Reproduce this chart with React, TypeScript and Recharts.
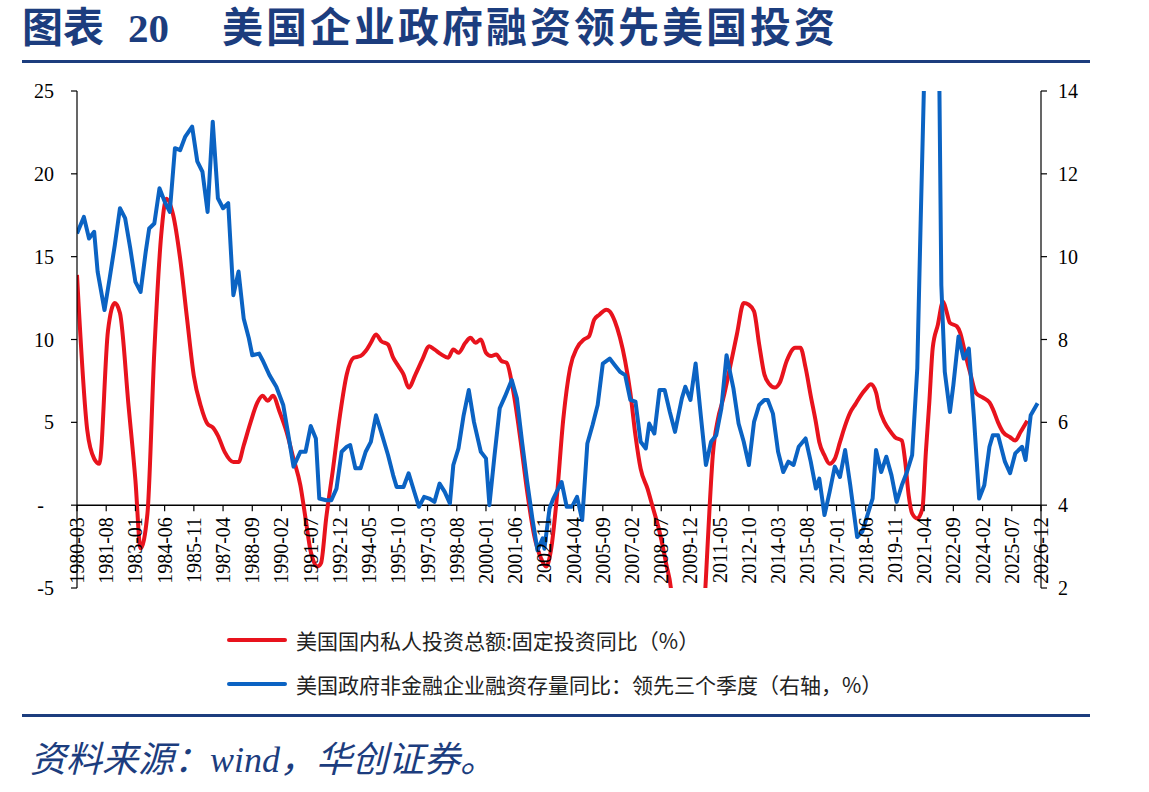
import React from "react"
import { LineChart, Line, XAxis, YAxis, ReferenceLine, Legend } from "recharts"

// 美国国内私人投资总额:固定投资同比（左轴，%）
const redDates = [
    "1980-03", "1980-09", "1981-01", "1981-04", "1981-09", "1982-01", "1982-04", "1982-09", "1983-01", "1983-04",
    "1983-08", "1983-12", "1984-04", "1984-07", "1984-11", "1985-03", "1985-07", "1985-11", "1986-03", "1986-07",
    "1986-10", "1987-01", "1987-05", "1987-10", "1988-01", "1988-04", "1988-08", "1988-12", "1989-03", "1989-06",
    "1989-09", "1990-01", "1990-05", "1990-09", "1991-01", "1991-04", "1991-07", "1991-11", "1992-01", "1992-04",
    "1992-08", "1992-12", "1993-04", "1993-08", "1993-12", "1994-03", "1994-06", "1994-09", "1994-12", "1995-04",
    "1995-07", "1995-10", "1996-01", "1996-04", "1996-08", "1996-12", "1997-04", "1997-07", "1997-11", "1998-03",
    "1998-06", "1998-09", "1999-01", "1999-04", "1999-07", "1999-10", "2000-01", "2000-04", "2000-07", "2000-10",
    "2001-01", "2001-05", "2001-09", "2002-01", "2002-05", "2002-09", "2002-12", "2003-03", "2003-06", "2003-10",
    "2004-02", "2004-06", "2004-10", "2005-01", "2005-04", "2005-07", "2005-11", "2006-01", "2006-04", "2006-07",
    "2006-10", "2007-01", "2007-04", "2007-07", "2007-11", "2008-02", "2008-06", "2008-10", "2009-01", "2009-04",
    "2009-07", "2009-10", "2010-01", "2010-03", "2010-06", "2010-09", "2010-11", "2011-01", "2011-04", "2011-07",
    "2011-11", "2012-03", "2012-07", "2012-10", "2013-01", "2013-04", "2013-07", "2013-10", "2014-01", "2014-04",
    "2014-08", "2015-01", "2015-04", "2015-07", "2015-10", "2016-01", "2016-03", "2016-06", "2016-09", "2016-12",
    "2017-03", "2017-06", "2017-09", "2017-12", "2018-03", "2018-06", "2018-09", "2018-12", "2019-02", "2019-05",
    "2019-08", "2019-11", "2020-03", "2020-05", "2020-07", "2020-09", "2020-12", "2021-03", "2021-05", "2021-07",
    "2021-09", "2021-12", "2022-03", "2022-05", "2022-07", "2022-11", "2023-01", "2023-04", "2023-07", "2023-10",
    "2024-02", "2024-06", "2024-08", "2024-11", "2025-02", "2025-06", "2025-09", "2025-12", "2026-04",
]
const redValues = [
    13.9, 4.5, 2.8, 2.5, 10.5, 12.2, 11.6, 6.0, 1.5, -2.6,
    -0.5, 9.3, 16.3, 18.5, 17.5, 14.9, 11.3, 7.8, 6.0, 4.9,
    4.7, 4.2, 3.2, 2.6, 2.6, 3.6, 5.0, 6.2, 6.6, 6.3,
    6.6, 5.6, 4.4, 2.8, 1.2, -0.8, -2.8, -3.7, -3.5, -0.8,
    2.2, 5.4, 7.9, 8.9, 9.0, 9.3, 9.8, 10.3, 9.9, 9.7,
    8.9, 8.4, 7.9, 7.1, 7.9, 8.8, 9.6, 9.4, 9.1, 8.9,
    9.4, 9.2, 9.8, 10.1, 9.8, 10.0, 9.2, 9.0, 9.1, 8.7,
    8.6, 6.8, 4.0, 0.8, -1.8, -3.2, -3.7, -2.6, 0.2, 5.2,
    8.3, 9.5, 10.0, 10.2, 11.2, 11.5, 11.8, 11.7, 11.1, 10.1,
    8.7, 6.8, 4.2, 2.2, 1.0, -0.1, -1.6, -3.6, -5.4, -12,
    -18, -19.5, -17, -15, -10, -4.4, -0.4, 3.0, 5.2, 6.4,
    8.3, 10.3, 12.2, 12.1, 11.7, 9.7, 7.9, 7.3, 7.1, 7.4,
    8.7, 9.5, 9.5, 8.3, 6.6, 5.0, 3.8, 3.0, 2.5, 2.8,
    3.8, 4.8, 5.6, 6.1, 6.6, 7.0, 7.3, 6.8, 5.8, 5.0,
    4.5, 4.1, 3.9, 2.6, 0.6, -0.5, -0.8, -0.2, 3.2, 6.2,
    9.5, 10.9, 12.3, 11.7, 11.0, 10.8, 10.4, 9.1, 7.9, 6.8,
    6.5, 6.2, 5.8, 5.0, 4.4, 4.1, 3.9, 4.4, 5.1,
]

// 美国政府非金融企业融资存量同比：领先三个季度（右轴，%）
const blueDates = [
    "1980-03", "1980-07", "1980-10", "1981-01", "1981-03", "1981-07", "1981-10", "1982-01", "1982-04", "1982-07",
    "1982-10", "1983-01", "1983-04", "1983-07", "1983-09", "1983-12", "1984-03", "1984-06", "1984-09", "1984-12",
    "1985-03", "1985-06", "1985-10", "1986-01", "1986-04", "1986-07", "1986-10", "1987-01", "1987-04", "1987-07",
    "1987-10", "1988-01", "1988-04", "1988-07", "1988-09", "1989-01", "1989-03", "1989-07", "1989-11", "1990-03",
    "1990-06", "1990-09", "1991-01", "1991-04", "1991-07", "1991-10", "1991-12", "1992-04", "1992-07", "1992-10",
    "1993-01", "1993-04", "1993-06", "1993-09", "1993-12", "1994-03", "1994-06", "1994-09", "1994-12", "1995-04",
    "1995-07", "1995-09", "1996-01", "1996-04", "1996-07", "1996-10", "1997-01", "1997-04", "1997-07", "1997-10",
    "1998-01", "1998-04", "1998-06", "1998-09", "1998-12", "1999-03", "1999-06", "1999-10", "2000-01", "2000-03",
    "2000-06", "2000-09", "2000-12", "2001-04", "2001-07", "2001-10", "2002-01", "2002-04", "2002-07", "2002-10",
    "2002-11", "2003-02", "2003-04", "2003-09", "2003-12", "2004-03", "2004-06", "2004-09", "2004-12", "2005-03",
    "2005-06", "2005-09", "2006-01", "2006-04", "2006-07", "2006-10", "2007-01", "2007-04", "2007-07", "2007-10",
    "2007-12", "2008-03", "2008-06", "2008-09", "2008-12", "2009-03", "2009-07", "2009-09", "2009-12", "2010-03",
    "2010-06", "2010-09", "2010-12", "2011-03", "2011-06", "2011-09", "2012-01", "2012-04", "2012-07", "2012-10",
    "2013-01", "2013-04", "2013-07", "2013-09", "2013-12", "2014-03", "2014-06", "2014-09", "2014-12", "2015-03",
    "2015-07", "2015-10", "2016-01", "2016-03", "2016-06", "2016-09", "2016-12", "2017-03", "2017-06", "2017-09",
    "2018-01", "2018-04", "2018-07", "2018-10", "2018-12", "2019-03", "2019-06", "2019-09", "2019-12", "2020-03",
    "2020-06", "2020-09", "2020-12", "2021-02", "2021-05", "2021-08", "2021-11", "2022-02", "2022-04", "2022-07",
    "2022-09", "2022-12", "2023-03", "2023-06", "2023-09", "2023-12", "2024-03", "2024-06", "2024-08", "2024-11",
    "2025-03", "2025-06", "2025-09", "2026-01", "2026-03", "2026-06", "2026-10",
]
const blueValues = [
    10.56, 10.96, 10.44, 10.6, 9.64, 8.71, 9.48, 10.28, 11.17, 10.93,
    10.2, 9.39, 9.15, 10.12, 10.68, 10.8, 11.65, 11.33, 11.08, 12.62,
    12.57, 12.9, 13.14, 12.3, 12.05, 11.08, 13.26, 11.41, 11.17, 11.29,
    9.07, 9.64, 8.51, 8.03, 7.62, 7.66, 7.5, 7.14, 6.86, 6.42,
    5.69, 4.93, 5.29, 5.29, 5.91, 5.61, 4.16, 4.12, 4.12, 4.4,
    5.29, 5.41, 5.45, 4.89, 4.89, 5.29, 5.53, 6.17, 5.77, 5.21,
    4.72, 4.44, 4.44, 4.77, 4.36, 3.96, 4.2, 4.16, 4.08, 4.52,
    4.32, 4.04, 4.97, 5.37, 6.17, 6.78, 6.01, 5.29, 5.13, 4.0,
    5.21, 6.34, 6.62, 7.02, 6.58, 5.53, 4.56, 3.68, 2.91, 3.2,
    2.95, 3.92, 4.14, 4.56, 3.96, 3.96, 4.2, 3.64, 5.49, 5.93,
    6.42, 7.42, 7.54, 7.38, 7.22, 7.14, 6.54, 6.5, 5.53, 5.37,
    5.97, 5.73, 6.78, 6.78, 6.25, 5.77, 6.58, 6.86, 6.54, 7.42,
    6.17, 4.97, 5.53, 5.69, 6.34, 7.62, 6.82, 5.97, 5.53, 4.97,
    6.01, 6.42, 6.54, 6.54, 6.21, 5.29, 4.8, 5.05, 4.97, 5.41,
    5.61, 5.05, 4.4, 4.64, 3.76, 4.32, 4.93, 4.68, 5.33, 4.48,
    3.23, 3.36, 3.76, 4.16, 5.33, 4.8, 5.17, 4.72, 4.08, 4.48,
    4.8, 5.21, 7.3, 10.9, 16, 22, 22, 9.31, 7.22, 6.25,
    6.9, 8.07, 7.54, 7.78, 6.1, 4.16, 4.48, 5.41, 5.69, 5.69,
    5.05, 4.77, 5.25, 5.41, 5.09, 6.17, 6.46,
]

const tickLabels = [
    "1980-03", "1981-08", "1983-01", "1984-06", "1985-11", "1987-04", "1988-09", "1990-02", "1991-07", "1992-12",
    "1994-05", "1995-10", "1997-03", "1998-08", "2000-01", "2001-06", "2002-11", "2004-04", "2005-09", "2007-02",
    "2008-07", "2009-12", "2011-05", "2012-10", "2014-03", "2015-08", "2017-01", "2018-06", "2019-11", "2021-04",
    "2022-09", "2024-02", "2025-07", "2026-12",
]
const leftTicks = [-5, 0, 5, 10, 15, 20, 25]
const rightTicks = [2, 4, 6, 8, 10, 12, 14]

const RED = "#e8131d"
const BLUE = "#0b63c3"
const NAVY = "#1c3d7e"

const legendItems = [
    { label: "美国国内私人投资总额:固定投资同比（%）", color: RED },
    { label: "美国政府非金融企业融资存量同比：领先三个季度（右轴，%）", color: BLUE },
]

// months since 1980-03
const monthIndex = (d: string) => {
    const [y, mo] = d.split("-").map(Number)
    return y * 12 + mo - 1 - (1980 * 12 + 2)
}

const xTicks = tickLabels.map(monthIndex)
const xMax = xTicks[xTicks.length - 1]

// merge both series on the month axis
const rowMap = new Map<number, { m: number; red?: number; blue?: number }>()
redDates.forEach((d, i) => {
    const m = monthIndex(d)
    rowMap.set(m, { ...(rowMap.get(m) || { m }), red: redValues[i] })
})
blueDates.forEach((d, i) => {
    const m = monthIndex(d)
    rowMap.set(m, { ...(rowMap.get(m) || { m }), blue: blueValues[i] })
})
const rows = Array.from(rowMap.values()).sort((a, b) => a.m - b.m)

const SERIF = '"Liberation Serif", "Times New Roman", serif'
const CJK = '"Noto Sans CJK SC", "Noto Sans", sans-serif'

const CHART_W = 1149
const CHART_H = 720
const TOP = 91
const X_AXIS_H = 30
const BOTTOM = 102
const PLOT_H = CHART_H - TOP - BOTTOM - X_AXIS_H
const LEFT_MIN = -5
const LEFT_MAX = 25
// distance from plot bottom up to the zero line of the left axis
const ZERO_OFFSET = (PLOT_H * (0 - LEFT_MIN)) / (LEFT_MAX - LEFT_MIN)

function XTick(props: any) {
    const { x, y, payload } = props
    const zy = y - ZERO_OFFSET
    const label = tickLabels[xTicks.indexOf(payload.value)]
    const ty = zy + 12
    return (
        <g>
            <line x1={x} x2={x} y1={zy} y2={zy + 6} stroke="#000" strokeWidth={1.2} />
            <text
                x={x}
                y={ty}
                transform={`rotate(-90 ${x} ${ty})`}
                textAnchor="end"
                dominantBaseline="central"
                fontSize={20}
                fontFamily={SERIF}
                fill="#000"
            >
                {label}
            </text>
        </g>
    )
}

function renderLegend() {
    return (
        <div>
            {legendItems.map((it) => (
                <div key={it.label} style={{ display: "flex", alignItems: "center", height: 44 }}>
                    <span
                        style={{
                            display: "inline-block",
                            width: 60,
                            height: 4,
                            borderRadius: 2,
                            background: it.color,
                            marginRight: 9,
                        }}
                    />
                    <span style={{ fontSize: 21, color: "#222", fontFamily: CJK, whiteSpace: "nowrap" }}>
                        {it.label}
                    </span>
                </div>
            ))}
        </div>
    )
}

export default function App() {
    return (
        <div style={{ position: "absolute", left: 0, top: 0, width: 1149, height: 792, background: "#fff", overflow: "hidden" }}>
            {/* title */}
            <div style={{ position: "absolute", left: 22, top: 4, color: NAVY, fontWeight: 700, fontSize: 41, lineHeight: "48px", fontFamily: `${SERIF}, ${CJK}`, whiteSpace: "nowrap" }}>
                <span>图表</span>
                <span style={{ position: "absolute", left: 106 }}>20</span>
                <span style={{ position: "absolute", left: 200, letterSpacing: 3 }}>美国企业政府融资领先美国投资</span>
            </div>
            <div style={{ position: "absolute", left: 22, top: 60, width: 1068, height: 3, background: NAVY }} />

            <LineChart width={CHART_W} height={CHART_H} data={rows} margin={{ top: TOP, right: 0, bottom: BOTTOM, left: 0 }}>
                <XAxis
                    dataKey="m"
                    type="number"
                    domain={[0, xMax]}
                    ticks={xTicks}
                    interval={0}
                    allowDataOverflow
                    axisLine={false}
                    tickLine={false}
                    tickSize={0}
                    tickMargin={0}
                    height={X_AXIS_H}
                    tick={(p: any) => <XTick {...p} />}
                />
                <YAxis
                    yAxisId="left"
                    width={77}
                    domain={[LEFT_MIN, LEFT_MAX]}
                    ticks={leftTicks}
                    allowDataOverflow
                    interval={0}
                    axisLine={{ stroke: "#000", strokeWidth: 1.2 }}
                    tickLine={{ stroke: "#000", strokeWidth: 1.2 }}
                    tickSize={6}
                    tickMargin={17}
                    tick={{ fill: "#000", fontSize: 20, fontFamily: SERIF }}
                    tickFormatter={(v) => (v === 0 ? "-\u00a0\u00a0" : String(v))}
                />
                <YAxis
                    yAxisId="right"
                    orientation="right"
                    width={108}
                    domain={[2, 14]}
                    ticks={rightTicks}
                    allowDataOverflow
                    interval={0}
                    axisLine={{ stroke: "#000", strokeWidth: 1.2 }}
                    tickLine={{ stroke: "#000", strokeWidth: 1.2 }}
                    tickSize={6}
                    tickMargin={11}
                    tick={{ fill: "#000", fontSize: 20, fontFamily: SERIF }}
                />
                <ReferenceLine yAxisId="left" y={0} stroke="#000" strokeWidth={1.5} />
                <Line
                    yAxisId="left"
                    type="monotone"
                    dataKey="red"
                    stroke={RED}
                    strokeWidth={4}
                    dot={false}
                    connectNulls
                    isAnimationActive={false}
                />
                <Line
                    yAxisId="right"
                    type="linear"
                    dataKey="blue"
                    stroke={BLUE}
                    strokeWidth={4}
                    strokeLinejoin="round"
                    dot={false}
                    connectNulls
                    isAnimationActive={false}
                />
                <Legend
                    layout="vertical"
                    align="center"
                    verticalAlign="middle"
                    wrapperStyle={{ left: 227, top: 618, width: 800 }}
                    content={renderLegend}
                />
            </LineChart>

            <div style={{ position: "absolute", left: 22, top: 714, width: 1068, height: 3, background: NAVY }} />
            {/* source */}
            <div style={{ position: "absolute", left: 30, top: 736, color: NAVY, fontStyle: "italic", fontSize: 36, lineHeight: "48px", fontFamily: `${SERIF}, ${CJK}`, whiteSpace: "nowrap" }}>
                资料来源：wind，华创证券。
            </div>
        </div>
    )
}
